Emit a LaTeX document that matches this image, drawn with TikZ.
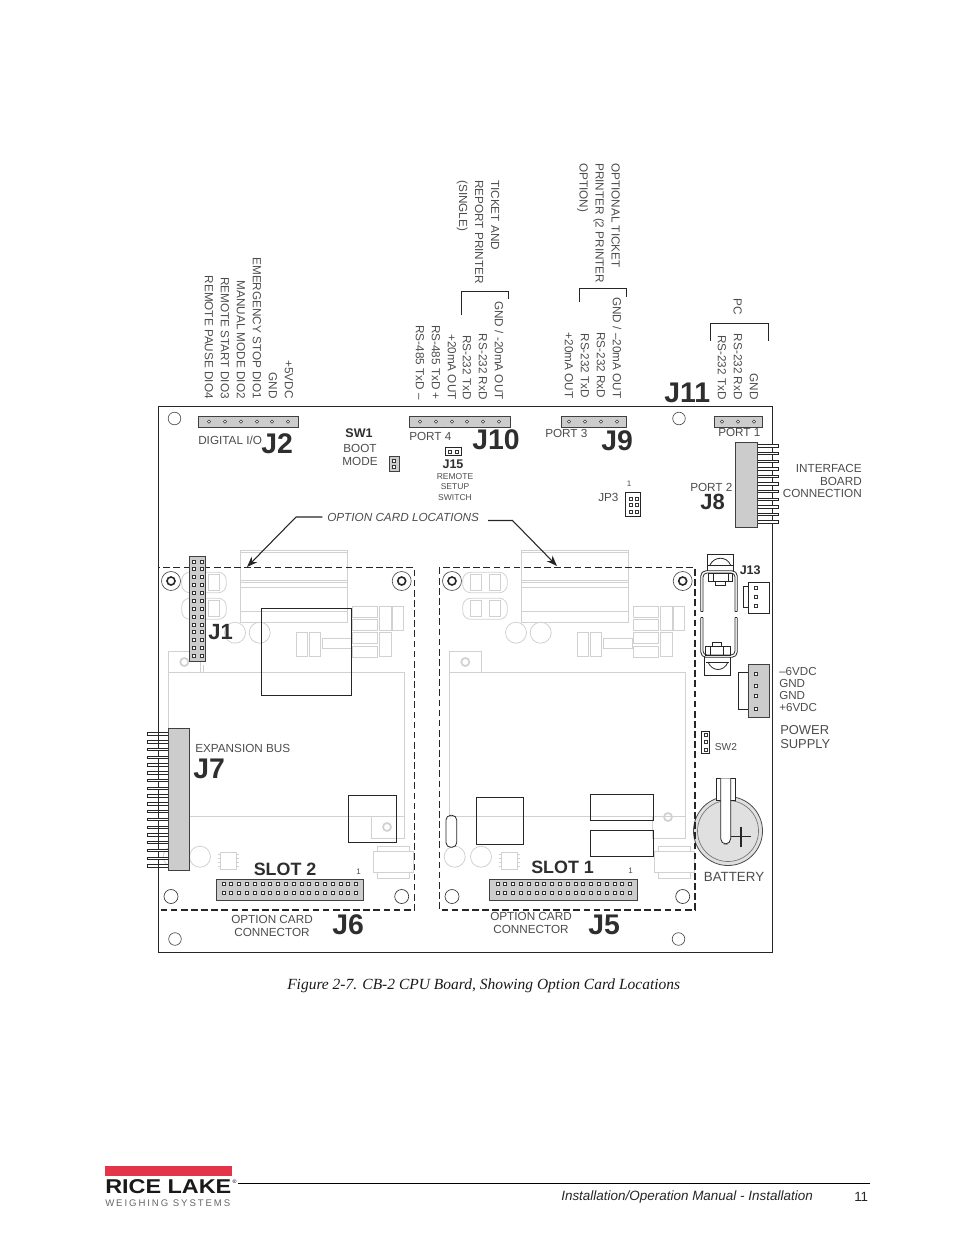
\documentclass[tikz,border=0pt]{standalone}
\usepackage{graphicx}
\usepackage{fontspec}
\setmainfont{Liberation Sans}
\newfontfamily\serifcap{Liberation Serif}
\newfontfamily\logospaced[LetterSpace=20]{Liberation Sans}
\usetikzlibrary{arrows.meta}
\definecolor{ghost}{gray}{0.82}
\definecolor{hdrgray}{gray}{0.80}
\definecolor{labelgray}{gray}{0.30}
\definecolor{bigdark}{gray}{0.18}
\definecolor{logored}{HTML}{E3344A}
\tikzset{
    lbl/.style={font=\fontsize{8.8}{9.4}\selectfont, text=labelgray, inner sep=0pt, align=center},
    pinlbl/.style={lbl, rotate=-90, anchor=east},
    grouplbl/.style={font=\fontsize{8.8}{12}\selectfont, text=labelgray, inner sep=0pt, align=left, rotate=-90, anchor=north west},
    bigj/.style={font=\bfseries\fontsize{21.3}{24}\selectfont, text=bigdark, inner sep=0pt},
    midj/.style={font=\bfseries\fontsize{16.5}{19}\selectfont, text=bigdark, inner sep=0pt},
    slotlbl/.style={font=\bfseries\fontsize{13.4}{16}\selectfont, text=bigdark, inner sep=0pt},
    smallb/.style={font=\bfseries\fontsize{9.4}{11}\selectfont, text=bigdark, inner sep=0pt},
    boardline/.style={draw=black!85, line width=0.7pt},
    comp/.style={draw=black!85, line width=0.6pt},
    ghostline/.style={draw=ghost, line width=0.6pt},
    header/.style={draw=black!75, fill=hdrgray, line width=0.6pt},
    pinsq/.style={draw=black!80, fill=white, line width=0.35pt},
    slotdash/.style={draw=black!85, line width=0.9pt, dash pattern=on 5pt off 2.6pt},
    callout/.style={draw=black!85, line width=0.8pt, -{Stealth[length=8pt,width=6pt]}}
}
\begin{document}
\begin{tikzpicture}[x=0.75pt, y=-0.75pt]
    \useasboundingbox (0,0) rectangle (954,1235);

    % board outline
    \draw[boardline] (158.5,406.5) rectangle (772.5,952);
    \foreach \hx/\hy in {174.5/418.5, 679/418.5, 175/939, 678.5/939}
        \draw[draw=black!70, line width=0.5pt] (\hx,\hy) circle [radius=6.3];

    % faded parts, the same under both slots
    \foreach \sx/\tabhole in {0/827, 281/817} {
        \begin{scope}[shift={(\sx,0)}]
            % heat sink
            \draw[ghostline] (240,550) rectangle (347,622.3);
            \foreach \ly in {552.7, 580, 582.7, 587.5, 611}
                \draw[ghostline] (240,\ly) -- (347,\ly);
            % capsules
            \draw[ghostline, rounded corners=6pt] (181.7,572.3) rectangle (226.3,592.7);
            \draw[ghostline, rounded corners=6pt] (181.7,598.3) rectangle (226.3,619.3);
            \foreach \cx in {189.7, 208.3} {
                \draw[ghostline] (\cx,574.3) rectangle ++(11,16.4);
                \draw[ghostline] (\cx,600) rectangle ++(11,16.7);
            }
            \draw[ghostline] (235,632.7) circle [radius=10.5];
            \draw[ghostline] (259.7,632.7) circle [radius=10.5];
            % small parts
            \foreach \py in {606, 619.3, 632.7, 646}
                \draw[ghostline] (352.3,\py) rectangle ++(24.7,11);
            \draw[ghostline] (379.7,606) rectangle (391,630.7);
            \draw[ghostline] (392.3,606) rectangle (403.7,630.7);
            \draw[ghostline] (379.7,632.7) rectangle (391,656.7);
            \draw[ghostline] (296.3,632.7) rectangle (307,656.7);
            \draw[ghostline] (309,632.7) rectangle (320.3,656.7);
            \draw[ghostline] (322.3,638.3) rectangle (351,648.3);
            % plate with its tabs
            \draw[ghostline] (168.3,651.3) rectangle (200.7,672.7);
            \draw[draw=ghost, line width=1.3pt] (184.3,662) circle [radius=4];
            \draw[ghostline] (168.3,672.7) rectangle (404,816.7);
            \draw[ghostline] (371.7,816.7) rectangle (404,838.3);
            \draw[draw=ghost, line width=1.3pt] (387,\tabhole) circle [radius=4];
            \draw[ghostline] (173.7,856.7) circle [radius=10.5];
            \draw[ghostline] (200,856.7) circle [radius=10.5];
            % small chip
            \draw[ghostline] (220,852.5) rectangle (236.5,869);
            \foreach \py in {854, 858, 862, 866} {
                \draw[ghostline] (217.5,\py) -- (220,\py);
                \draw[ghostline] (236.5,\py) -- (239,\py);
            }
            % relay
            \draw[ghostline] (377.3,846.7) rectangle (409.3,878.3);
            \draw[draw=ghost, line width=1pt, fill=white] (373.3,851.7) rectangle (413.3,872.3);
            % standoffs and holes
            \foreach \hx in {171, 401.7} {
                \draw[draw=black!70, line width=0.5pt] (\hx,581) circle [radius=9.5];
                \draw[draw=black!85, line width=1.2pt] (\hx,581) circle [radius=4];
                \draw[draw=black!80, line width=0.5pt] (\hx,896.5) circle [radius=7];
            }
        \end{scope}
    }
    \draw[ghostline] (203.3,665) -- (203.3,672);

    % outlined parts on the cards
    \draw[comp] (261.3,608.3) rectangle (351.7,695.3);
    \draw[comp] (348.3,795.3) rectangle (396.7,842.7);
    \draw[comp] (476.3,797.3) rectangle (523.7,844.3);
    \draw[comp] (590.3,794.3) rectangle (653.7,820.7);
    \draw[comp] (590.3,830.3) rectangle (653.7,856.3);
    \draw[comp, rounded corners=3.5pt] (446,815.3) rectangle (456.7,847.3);

    % battery
    \draw[draw=black!70, fill=black!12, line width=0.6pt] (728,831) circle [radius=34.5];
    \draw[draw=black!55, line width=0.5pt] (728,831) circle [radius=30.5];
    \draw[comp, fill=white] (716.7,778.3) -- (735,778.3) -- (735,800) -- (716.7,800) -- cycle;
    \draw[comp, fill=white, rounded corners=4pt] (720.7,778.3) -- (720.7,844) -- (730.7,844) -- (730.7,778.3);
    \draw[draw=black!85, line width=0.9pt] (731,836.7) -- (751,836.7) (741,826.7) -- (741,846.7);

    % battery holder
    \draw[comp, rounded corners=4pt] (700.7,611.5) -- (700.7,570.7) -- (737.3,570.7) -- (737.3,611.5);
    \draw[comp, rounded corners=3pt] (703,611.5) -- (703,573) -- (735,573) -- (735,611.5);
    \draw[comp, rounded corners=4pt] (700.7,617.5) -- (700.7,657.3) -- (737.3,657.3) -- (737.3,617.5);
    \draw[comp, rounded corners=3pt] (703,617.5) -- (703,655) -- (735,655) -- (735,617.5);
    \draw[comp] (700.7,611.5) -- (703,611.5) (735,611.5) -- (737.3,611.5);
    \draw[comp] (700.7,617.5) -- (703,617.5) (735,617.5) -- (737.3,617.5);
    \draw[comp] (707.3,570.7) -- (707.3,554.3) -- (733.3,554.3) -- (733.3,570.7);
    \draw[comp] (710,565) .. controls (714,556) and (727,556) .. (730.5,565);
    \draw[comp] (707.3,565) -- (733.3,565);
    \draw[comp] (708.3,573.3) rectangle (732.7,581.7);
    \draw[comp] (713.3,573.3) -- (713.3,581.7) (728.3,573.3) -- (728.3,581.7);
    \draw[comp] (715.7,581.7) rectangle (725,585);
    \draw[comp] (705,646) rectangle (730,655);
    \draw[comp] (710,646) -- (710,655) (723.3,646) -- (723.3,655);
    \draw[comp] (712.7,642.7) rectangle (721.7,646);
    \draw[comp] (704,657.3) -- (704,675) -- (730.7,675) -- (730.7,657.3);
    \draw[comp] (706,662) -- (728.7,662);
    \draw[comp] (708,662) .. controls (712,672) and (724,672) .. (728,662);

    % J7 pins go under the dashed frame
    \foreach \k in {0,...,17}
        \draw[comp, fill=white] (147.3,{734+\k*7.76-1.2}) rectangle (168.3,{734+\k*7.76+1.2});

    % option card frames
    \draw[slotdash] (158.3,567.8) rectangle (414.7,910);
    \draw[slotdash] (439.3,567.8) rectangle (695,910);

    % headers along the top edge
    \draw[header] (198,416) rectangle (298,427);
    \foreach \x in {209,225,241,257,272,288}
        \draw[pinsq] (\x,420) -- ++(1.6,1.6) -- ++(-1.6,1.6) -- ++(-1.6,-1.6) -- cycle;
    \draw[header] (409,416) rectangle (510,427);
    \foreach \x in {420,436,452,467,483,499}
        \draw[pinsq] (\x,420) -- ++(1.6,1.6) -- ++(-1.6,1.6) -- ++(-1.6,-1.6) -- cycle;
    \draw[header] (561,416) rectangle (626,427);
    \foreach \x in {569,585,601,617}
        \draw[pinsq] (\x,420) -- ++(1.6,1.6) -- ++(-1.6,1.6) -- ++(-1.6,-1.6) -- cycle;
    \draw[header] (714,416) rectangle (762,427);
    \foreach \x in {722,738,754}
        \draw[pinsq] (\x,420) -- ++(1.6,1.6) -- ++(-1.6,1.6) -- ++(-1.6,-1.6) -- cycle;

    % J8 interface connector
    \foreach \k in {0,...,10}
        \draw[comp, fill=white] (757,{446+\k*7.6-1.2}) rectangle (778,{446+\k*7.6+1.2});
    \draw[header] (735,442) rectangle (757,527);

    % jumpers
    \draw[header] (389.5,456) rectangle (399,471.7);
    \draw[pinsq] (392.7,459.3) rectangle ++(3,3);
    \draw[pinsq] (392.7,465.3) rectangle ++(3,3);
    \draw[comp] (445,447.7) rectangle (461.7,455.7);
    \draw[pinsq] (448,450.2) rectangle ++(3,3);
    \draw[pinsq] (455,450.2) rectangle ++(3,3);
    \draw[comp] (625.7,492.7) rectangle (640.7,516.7);
    \foreach \y in {497,503.5,510} {
        \draw[pinsq] (629,\y) rectangle ++(3,3);
        \draw[pinsq] (635,\y) rectangle ++(3,3);
    }
    \draw[comp] (701.3,731.3) rectangle (709.3,753.3);
    \foreach \y in {733.5,740.5,747.8}
        \draw[pinsq] (703.8,\y) rectangle ++(3,3);

    % J1
    \draw[header] (189.3,556) rectangle (205.7,661.3);
    \foreach \k in {0,...,12} {
        \draw[pinsq] (191.8,{559.8+\k*7.87}) rectangle ++(3,3);
        \draw[pinsq] (200.5,{559.8+\k*7.87}) rectangle ++(3,3);
    }

    % J7
    \draw[header] (168.3,728.3) rectangle (189.3,870.7);

    % J6 and J5
    \draw[header] (216.3,879.3) rectangle (363.7,900.3);
    \draw[header] (489.3,879.3) rectangle (637.3,900.3);
    \foreach \k in {0,...,17} {
        \draw[pinsq] ({221.8+\k*7.8},882.5) rectangle ++(3,3);
        \draw[pinsq] ({221.8+\k*7.8},891.2) rectangle ++(3,3);
        \draw[pinsq] ({495.8+\k*7.8},882.5) rectangle ++(3,3);
        \draw[pinsq] ({495.8+\k*7.8},891.2) rectangle ++(3,3);
    }

    % J13 and power connector
    \draw[comp] (743,586) rectangle (748.3,607.7);
    \draw[comp] (748.3,582.3) rectangle (769.7,613.3);
    \foreach \y in {587.7,596.7,606}
        \draw[pinsq] (754.5,{\y-1.5}) rectangle ++(3,3);
    \draw[comp] (738,672.3) rectangle (748.3,709.3);
    \draw[header] (748.3,664.3) rectangle (769.7,717.7);
    \foreach \y in {673.3,685.3,696,708.3}
        \draw[pinsq] (754.5,{\y-1.5}) rectangle ++(3,3);

    % brackets over the ports
    \draw[comp] (461.7,315.3) -- (461.7,291.3) -- (508,291.3) -- (508,299);
    \draw[comp] (579,301.7) -- (579,288) -- (626,288) -- (626,297);
    \draw[comp] (710,340.7) -- (710,323) -- (768,323) -- (768,340.7);

    % pin names
    \foreach \x/\t in {289/+5VDC, 273/GND, 257/EMERGENCY STOP DIO1, 241/MANUAL MODE DIO2, 225/REMOTE START DIO3, 209/REMOTE PAUSE DIO4}
        \node[pinlbl] (digital\x) at (\x,399) {\t};
    \foreach \x/\t in {499/{GND / -20mA OUT}, 483/RS-232 RxD, 467/RS-232 TxD, 452/+20mA OUT, 436/RS-485 TxD +, 420/RS-485 TxD –}
        \node[pinlbl] (portfour\x) at (\x,400) {\t};
    \foreach \x/\t in {617/{GND / –20mA OUT}, 601/RS-232 RxD, 585/RS-232 TxD, 569/+20mA OUT}
        \node[pinlbl] (portthree\x) at (\x,398.5) {\t};
    \foreach \x/\t in {754/GND, 738/RS-232 RxD, 722/RS-232 TxD}
        \node[pinlbl] (portone\x) at (\x,400) {\t};

    % what the ports are for
    \node[grouplbl] (ticket) at (499.5,180) {TICKET AND\\REPORT PRINTER\\(SINGLE)};
    \node[grouplbl] (optticket) at (620,163) {OPTIONAL TICKET\\PRINTER (2 PRINTER\\OPTION)};
    \node[grouplbl] (pc) at (742,298) {PC};

    % connector names
    \node[lbl, anchor=west] (digital) at (198,440) {DIGITAL I/O};
    \node[bigj, anchor=west] (jtwo) at (261,444) {J2};
    \node[smallb] (swone) at (359,433) {SW1};
    \node[lbl] (boot) at (360,455) {BOOT\\MODE};
    \node[lbl, anchor=west] (portfour) at (409,436) {PORT 4};
    \node[bigj, anchor=west] (jten) at (472,440) {J10};
    \node[smallb] (jfifteen) at (453,464) {J15};
    \node[lbl, font=\fontsize{6.4}{8.2}\selectfont] (remote) at (455,487) {REMOTE\\SETUP\\SWITCH};
    \node[lbl, anchor=west] (portthree) at (545,433) {PORT 3};
    \node[bigj, anchor=west] (jnine) at (601,441) {J9};
    \node[bigj, anchor=west] (jeleven) at (664,393) {J11};
    \node[lbl, anchor=west] (portone) at (718,432) {PORT 1};
    \node[lbl, anchor=west] (jpthree) at (598,497) {JP3};
    \node[lbl, font=\fontsize{6}{7}\selectfont] (jpone) at (629,484) {1};
    \node[lbl, anchor=west] (porttwo) at (690,487) {PORT 2};
    \node[midj, anchor=west] (jeight) at (700,502) {J8};
    \node[lbl, align=right, anchor=east] (interface) at (862,481) {INTERFACE\\BOARD\\CONNECTION};
    \node[midj, anchor=west] (jone) at (208,632) {J1};
    \node[lbl, anchor=west] (expansion) at (195,748) {EXPANSION BUS};
    \node[bigj, anchor=west] (jseven) at (193,769) {J7};
    \node[slotlbl, anchor=west] (slottwo) at (253.5,869) {SLOT 2};
    \node[slotlbl, anchor=west] (slotone) at (531,867.5) {SLOT 1};
    \node[lbl, font=\fontsize{6}{7}\selectfont] (pinonea) at (358.7,871.7) {1};
    \node[lbl, font=\fontsize{6}{7}\selectfont] (pinoneb) at (630.7,870.7) {1};
    \node[lbl] (cardtwo) at (272,926) {OPTION CARD\\CONNECTOR};
    \node[lbl] (cardone) at (531,923) {OPTION CARD\\CONNECTOR};
    \node[bigj, anchor=west] (jsix) at (332,925) {J6};
    \node[bigj, anchor=west] (jfive) at (588,925) {J5};
    \node[smallb, anchor=west] (jthirteen) at (739.5,570.5) {J13};
    \node[lbl, align=left, anchor=west, font=\fontsize{8.7}{9}\selectfont] (supply) at (779,689.5) {–6VDC\\GND\\GND\\+6VDC};
    \node[lbl, align=left, anchor=west, font=\fontsize{9.7}{10.6}\selectfont] (power) at (780,737) {POWER\\SUPPLY};
    \node[lbl, anchor=west, font=\fontsize{7.6}{9}\selectfont] (swtwo) at (714.7,747) {SW2};
    \node[lbl, font=\fontsize{10}{12}\selectfont] (battery) at (734,877) {BATTERY};

    % option card callout
    \node[lbl, anchor=west, font=\itshape\fontsize{8.8}{10}\selectfont] (optlabel) at (327,517) {OPTION CARD LOCATIONS};
    \coordinate (bendtwo) at (296,517);
    \coordinate (cardtwotip) at (247,567);
    \coordinate (rightstart) at (488,520.5);
    \coordinate (bendone) at (512.5,520.5);
    \coordinate (cardonetip) at (557,566);
    \draw[callout] ([xshift=-3.5pt]optlabel.west) -- (bendtwo) -- (cardtwotip);
    \draw[callout] (rightstart) -- (bendone) -- (cardonetip);

    % caption
    \node[inner sep=0pt, anchor=west, text=black!90, font=\serifcap\itshape\fontsize{11.62}{13}\selectfont] (caption) at (287,986) {Figure 2-7. CB-2 CPU Board, Showing Option Card Locations};

    % page footer
    \fill[logored] (105,1166) rectangle (231.7,1176);
    \node[inner sep=0pt, anchor=west, text=black!90, font=\bfseries\fontsize{15}{16}\selectfont] (logo) at (105,1187) {\scalebox{1.17}[1]{RICE LAKE}};
    \node[inner sep=0pt, anchor=west, text=black!60, font=\logospaced\fontsize{7.2}{8}\selectfont] (weighing) at (105,1203) {WEIGHING SYSTEMS};
    \node[inner sep=0pt, font=\fontsize{4}{5}\selectfont] (regmark) at (234.5,1181.5) {®};
    \coordinate (rulestart) at (238,1183.5);
    \coordinate (ruleend) at (870,1183.5);
    \draw[draw=black, line width=0.6pt] (rulestart) -- (ruleend);
    \node[inner sep=0pt, anchor=west, text=black!85, font=\itshape\fontsize{10.1}{12}\selectfont] (footer) at (561,1197) {Installation/Operation Manual - Installation};
    \node[inner sep=0pt, anchor=west, text=black!85, font=\fontsize{10}{12}\selectfont] (pageno) at (854,1196.5) {11};
\end{tikzpicture}
\end{document}
